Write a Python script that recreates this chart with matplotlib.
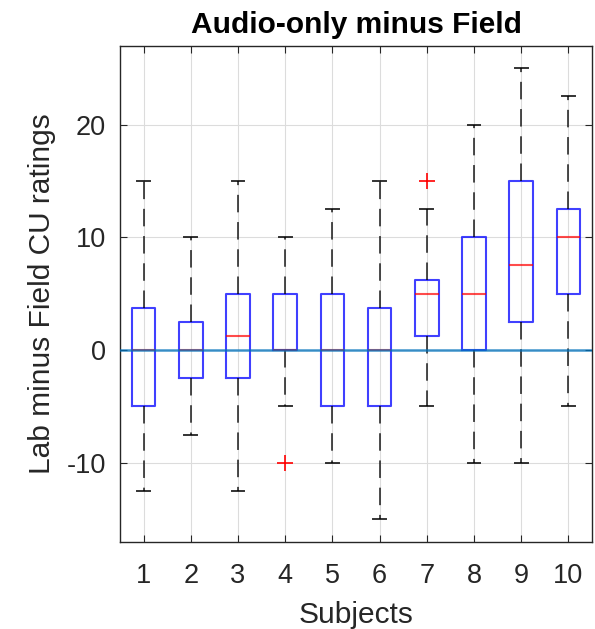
import numpy as np
from matplotlib import pyplot as plt

plt.rcParams['font.family'] = ['Liberation Sans', 'DejaVu Sans']
plt.rcParams['axes.unicode_minus'] = False

# Per-subject box statistics (Lab minus Field CU ratings)
subjects = [1, 2, 3, 4, 5, 6, 7, 8, 9, 10]
whis_lo = [-12.5, -7.5, -12.5, -5, -10, -15, -5, -10, -10, -5]
q1 = [-5, -2.5, -2.5, 0, -5, -5, 1.25, 0, 2.5, 5]
med = [0, 0, 1.25, 0, 0, 0, 5, 5, 7.5, 10]
q3 = [3.75, 2.5, 5, 5, 5, 3.75, 6.25, 10, 15, 12.5]
whis_hi = [15, 10, 15, 10, 12.5, 15, 12.5, 20, 25, 22.5]
outliers = [[], [], [], [-10], [], [], [15], [], [], []]

stats = []
for i in range(len(subjects)):
    stats.append(dict(whislo=whis_lo[i], q1=q1[i], med=med[i], q3=q3[i],
                      whishi=whis_hi[i], fliers=outliers[i], label=str(subjects[i])))

fig = plt.figure(figsize=(5.95, 6.29), dpi=100)
ax = fig.add_axes([0.2017, 0.1388, 0.7933, 0.7887])

ax.grid(True, color='#dcdcdc', linewidth=0.8, zorder=0)
ax.set_axisbelow(True)

ax.bxp(stats, positions=subjects, widths=0.5,
       boxprops=dict(color='#0000ff', linewidth=1.5, alpha=0.75),
       medianprops=dict(color='#ff0000', linewidth=1.5, alpha=0.7),
       whiskerprops=dict(color='black', linewidth=1.4, linestyle=(0, (9, 5)), alpha=0.7),
       capprops=dict(color='black', linewidth=1.4, alpha=0.8),
       flierprops=dict(marker='+', markeredgecolor='#ff0000', markersize=12,
                       markeredgewidth=1.2, linestyle='none'),
       capwidths=0.27)

ax.axhline(0, color='#0072BD', linewidth=1.8, alpha=0.75, zorder=5)

ax.set_xlim(0.5, 10.5)
ax.set_ylim(-17, 27)
ax.set_yticks([-10, 0, 10, 20])
ax.set_xticks(subjects)
ax.set_xticklabels([str(s) for s in subjects])

ax.tick_params(axis='both', labelsize=19.5, colors='#262626', direction='in',
               length=5, top=True, right=True)
ax.tick_params(axis='y', pad=10)
ax.tick_params(axis='x', pad=15)
for sp in ax.spines.values():
    sp.set_color('#262626')
    sp.set_linewidth(1.0)

ax.set_xlabel('Subjects', fontsize=21.5, color='#262626', labelpad=9)
ax.set_ylabel('Lab minus Field CU ratings', fontsize=21.5, color='#262626', labelpad=8)
ax.set_title('Audio-only minus Field', fontsize=21.5, fontweight='bold', pad=9)

plt.savefig('out.png', dpi=100)
